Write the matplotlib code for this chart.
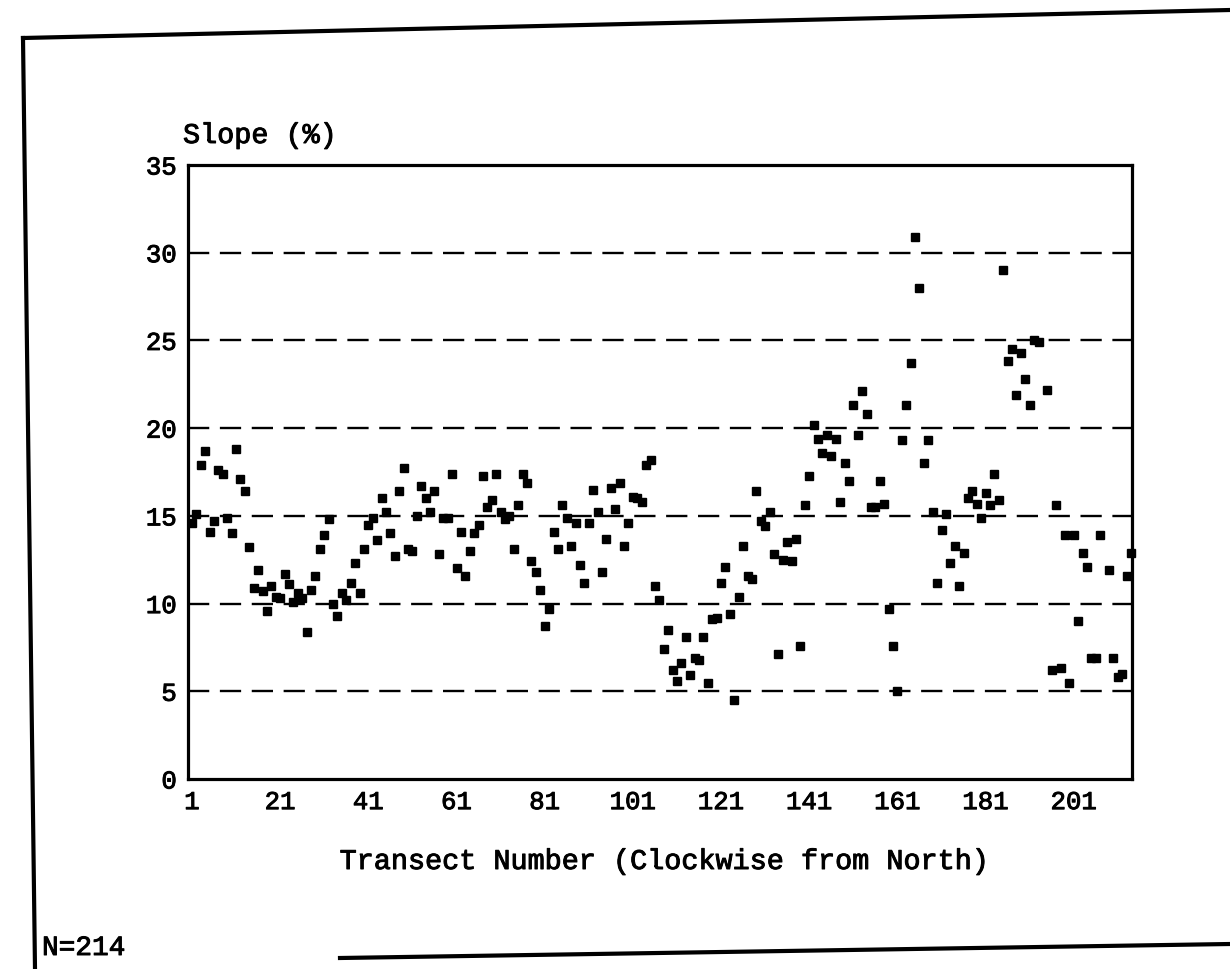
import matplotlib
matplotlib.use("Agg")
import matplotlib.pyplot as plt
from matplotlib.lines import Line2D
import matplotlib.patheffects as pe

# ---- data ----
transects = [1, 2, 3, 4, 5, 6, 7, 8, 9, 10, 11, 12, 13, 14, 15, 16, 17, 18, 19, 20,
             21, 22, 23, 24, 25, 26, 27, 28, 29, 30, 31, 32, 33, 34, 35, 36, 37, 38, 39, 40,
             41, 42, 43, 44, 45, 46, 47, 48, 49, 50, 51, 52, 53, 54, 55, 56, 57, 58, 59, 60,
             61, 62, 63, 64, 65, 66, 67, 68, 69, 70, 71, 72, 73, 74, 75, 76, 77, 78, 79, 80,
             81, 82, 83, 84, 85, 86, 87, 88, 89, 90, 91, 92, 93, 94, 95, 96, 97, 98, 99, 100,
             101, 102, 103, 104, 105, 106, 107, 108, 109, 110, 111, 112, 113, 114, 115, 116,
             117, 118, 119, 120, 121, 122, 123, 124, 125, 126, 127, 128, 129, 130, 131, 132,
             133, 134, 135, 136, 137, 138, 139, 140, 141, 142, 143, 144, 145, 146, 147, 148,
             149, 150, 151, 152, 153, 154, 155, 156, 157, 158, 159, 160, 161, 162, 163, 164,
             165, 166, 167, 168, 169, 170, 171, 172, 173, 174, 175, 176, 177, 178, 179, 180,
             181, 182, 183, 184, 185, 186, 187, 188, 189, 190, 191, 192, 193, 195, 196, 197,
             198, 199, 200, 201, 202, 203, 204, 205, 206, 207, 209, 210, 211, 212, 213, 214]

slope = [14.6, 15.1, 17.9, 18.7, 14.1, 14.7, 17.6, 17.4, 14.9, 14.0, 18.8, 17.1, 16.4, 13.2, 10.9, 11.9, 10.7, 9.6, 11.0, 10.4,
         10.3, 11.7, 11.1, 10.1, 10.6, 10.3, 8.4, 10.8, 11.6, 13.1, 13.9, 14.8, 10.0, 9.3, 10.6, 10.2, 11.2, 12.3, 10.6, 13.1,
         14.5, 14.9, 13.6, 16.0, 15.2, 14.0, 12.7, 16.4, 17.7, 13.1, 13.0, 15.0, 16.7, 16.0, 15.2, 16.4, 12.8, 14.9, 14.9, 17.4,
         12.0, 14.1, 11.6, 13.0, 14.0, 14.5, 17.3, 15.5, 15.9, 17.4, 15.2, 14.8, 15.0, 13.1, 15.6, 17.4, 16.9, 12.4, 11.8, 10.8,
         8.7, 9.7, 14.1, 13.1, 15.6, 14.9, 13.3, 14.6, 12.2, 11.2, 14.6, 16.5, 15.2, 11.8, 13.7, 16.6, 15.4, 16.9, 13.3, 14.6,
         16.1, 16.0, 15.8, 17.9, 18.2, 11.0, 10.2, 7.4, 8.5, 6.2, 5.6, 6.6, 8.1, 5.9, 6.9, 6.8,
         8.1, 5.5, 9.1, 9.2, 11.2, 12.1, 9.4, 4.5, 10.4, 13.3, 11.6, 11.4, 16.4, 14.7, 14.4, 15.2,
         12.8, 7.1, 12.5, 13.5, 12.4, 13.7, 7.6, 15.6, 17.3, 20.2, 19.4, 18.6, 19.6, 18.4, 19.4, 15.8,
         18.0, 17.0, 21.3, 19.6, 22.1, 20.8, 15.5, 15.5, 17.0, 15.7, 9.7, 7.6, 5.0, 19.3, 21.3, 23.7,
         30.9, 28.0, 18.0, 19.3, 15.2, 11.2, 14.2, 15.1, 12.3, 13.3, 11.0, 12.9, 16.0, 16.4, 15.7, 14.9,
         16.3, 15.6, 17.4, 15.9, 29.0, 23.8, 24.5, 21.9, 24.3, 22.8, 21.3, 25.0, 24.9, 22.2, 6.2, 15.6,
         6.3, 13.9, 5.5, 13.9, 9.0, 12.9, 12.1, 6.9, 6.9, 13.9, 11.9, 6.9, 5.8, 6.0, 11.6, 12.9]

x_ticks = [1, 21, 41, 61, 81, 101, 121, 141, 161, 181, 201]
y_ticks = [0, 5, 10, 15, 20, 25, 30, 35]
grid_levels = [5, 10, 15, 20, 25, 30]

FONT = ["Liberation Mono", "DejaVu Sans Mono"]
BOLDEN = [pe.withStroke(linewidth=0.7, foreground="black")]
W, H = 1230, 969

fig = plt.figure(figsize=(W / 100, H / 100), dpi=100)
fig.patch.set_facecolor("white")

def fx(px):
    return px / W

def fy(py):
    return 1 - py / H

ax_l, ax_r, ax_t, ax_b = 188, 1132, 165, 779
ax = fig.add_axes([fx(ax_l), fy(ax_b), fx(ax_r) - fx(ax_l), fy(ax_t) - fy(ax_b)])

ax.set_xlim(0.1, 214.2)
ax.set_ylim(0, 35)

for lev in grid_levels:
    ax.axhline(lev, color="black", lw=1.7, dashes=(9, 4.5), zorder=1)

ax.plot(transects, slope, ls="none", marker="s", ms=5.8, color="black",
        mec="black", zorder=3, clip_on=False)

for s in ax.spines.values():
    s.set_linewidth(2.3)
    s.set_color("black")

ax.set_xticks(x_ticks)
ax.set_xticklabels([str(t) for t in x_ticks])
ax.set_yticks(y_ticks)
ax.set_yticklabels([str(t) for t in y_ticks])
ax.tick_params(axis="both", length=0, labelsize=18.5, colors="black")
ax.tick_params(axis="x", pad=8)
ax.tick_params(axis="y", pad=8)
for lab in ax.get_xticklabels() + ax.get_yticklabels():
    lab.set_family(FONT)
    lab.set_path_effects(BOLDEN)

fig.text(fx(183), fy(136), "Slope (%)", family=FONT, fontsize=20.5,
         ha="left", va="center", color="black", path_effects=BOLDEN)
fig.text(fx(665), fy(862), "Transect Number (Clockwise from North)", family=FONT,
         fontsize=20.5, ha="center", va="center", color="black", path_effects=BOLDEN)
fig.text(fx(42), fy(948), "N=214", family=FONT, fontsize=20,
         ha="left", va="center", color="black", path_effects=BOLDEN)

# outer page frame (scan border)
frame_lines = [((23, 38), (1230, 10)), ((23, 38), (35, 969)), ((340, 958), (1230, 944))]
for (x0, y0), (x1, y1) in frame_lines:
    fig.add_artist(Line2D([fx(x0), fx(x1)], [fy(y0), fy(y1)], color="black", lw=3.0,
                          transform=fig.transFigure))

fig.savefig("out.png", dpi=100, facecolor="white")
